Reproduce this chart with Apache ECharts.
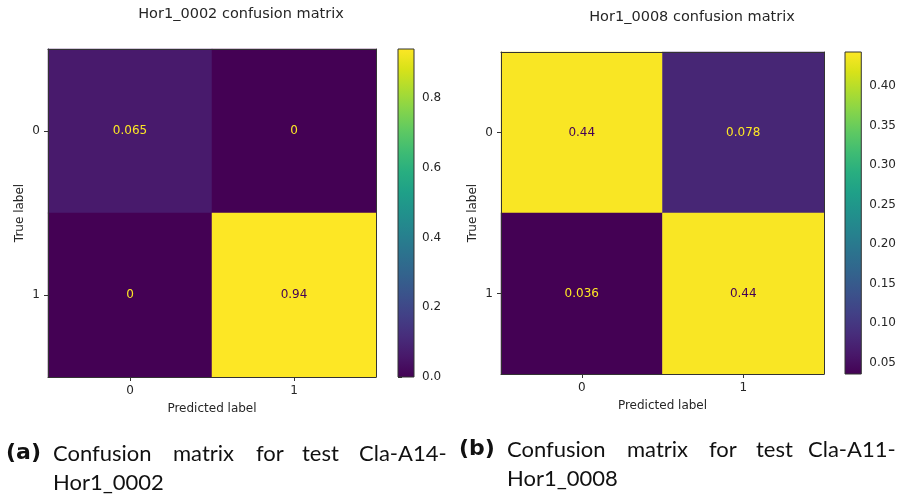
<!DOCTYPE html>
<html>
<head>
<meta charset="utf-8">
<script src="https://cdn.jsdelivr.net/npm/echarts@6/dist/echarts.min.js"></script>
<style>
  html, body { margin: 0; padding: 0; background: #ffffff; }
  #chart { width: 899px; height: 495px; }
</style>
</head>
<body>
<div id="chart"></div>
<script>
// Class labels shared by both matrices
const classLabels = ['0', '1'];

// Normalised confusion matrices: rows = true label, columns = predicted label
const matrixA = [
  [0.065, 0],
  [0, 0.94]
];
const matrixB = [
  [0.44, 0.078],
  [0.036, 0.44]
];

// Colour-scale ranges and colourbar ticks
const rangeA = [0, 0.94];
const rangeB = [0.036, 0.443];
const ticksA = [0.0, 0.2, 0.4, 0.6, 0.8];
const ticksB = [0.05, 0.10, 0.15, 0.20, 0.25, 0.30, 0.35, 0.40];

// Titles and captions
const titleA = 'Hor1_0002 confusion matrix';
const titleB = 'Hor1_0008 confusion matrix';
const captionA = ['(a)', 'Confusion', 'matrix', 'for', 'test', 'Cla-A14-', 'Hor1_0002'];
const captionB = ['(b)', 'Confusion', 'matrix', 'for', 'test', 'Cla-A11-', 'Hor1_0008'];

// viridis colormap samples
const viridis = ['#440154', '#48186a', '#472d7b', '#424086', '#3b528b', '#33638d',
  '#2c728e', '#26828e', '#21918c', '#1fa088', '#28ae80', '#3fbc73', '#5ec962',
  '#84d44b', '#addc30', '#d8e219', '#fde725'];

const FONT = 'DejaVu Sans';
const INK = '#262626';
const FRAME = '#333333';

function cellData(matrix, range) {
  const thresh = (range[0] + range[1]) / 2;
  const out = [];
  matrix.forEach((row, r) => {
    row.forEach((v, c) => {
      out.push({
        value: [c, r, v],
        label: { color: v < thresh ? viridis[viridis.length - 1] : viridis[0] }
      });
    });
  });
  return out;
}

function gradientStops() {
  return viridis.map((c, i) => ({ offset: i / (viridis.length - 1), color: c }));
}

function colorbarItem(params, api) {
  const lo = api.coord([0, api.value(0)]);
  const hi = api.coord([1, api.value(1)]);
  return {
    type: 'rect',
    shape: { x: lo[0], y: hi[1], width: hi[0] - lo[0], height: lo[1] - hi[1] },
    style: {
      fill: new echarts.graphic.LinearGradient(0, 1, 0, 0, gradientStops()),
      stroke: FRAME,
      lineWidth: 1
    }
  };
}

const grids = [
  { left: 48, top: 49, width: 328, height: 328 },   // matrix A
  { left: 398, top: 49, width: 16, height: 328 },   // colourbar A
  { left: 501, top: 52, width: 323, height: 322 },  // matrix B
  { left: 845, top: 52, width: 17, height: 322 }    // colourbar B
];

function matrixAxes(gi) {
  const tickStyle = { show: true, alignWithLabel: true, length: 4, lineStyle: { color: FRAME } };
  const lineStyle = { color: FRAME, width: 1 };
  const x = [
    {
      type: 'category', gridIndex: gi, data: classLabels, position: 'bottom', z: 10,
      axisLine: { show: true, lineStyle },
      axisTick: tickStyle,
      axisLabel: { color: INK, fontFamily: FONT, fontSize: 12, margin: 8 },
      name: 'Predicted label', nameLocation: 'middle', nameGap: 26,
      nameTextStyle: { color: INK, fontFamily: FONT, fontSize: 12 }
    },
    {
      type: 'category', gridIndex: gi, data: classLabels, position: 'top', z: 10,
      axisLine: { show: true, lineStyle }, axisTick: { show: false }, axisLabel: { show: false }
    }
  ];
  const y = [
    {
      type: 'category', gridIndex: gi, data: classLabels, inverse: true, position: 'left', z: 10,
      axisLine: { show: true, lineStyle },
      axisTick: tickStyle,
      axisLabel: { color: INK, fontFamily: FONT, fontSize: 12, margin: 8 },
      name: 'True label', nameLocation: 'middle', nameGap: 22,
      nameTextStyle: { color: INK, fontFamily: FONT, fontSize: 12 }
    },
    {
      type: 'category', gridIndex: gi, data: classLabels, inverse: true, position: 'right', z: 10,
      axisLine: { show: true, lineStyle }, axisTick: { show: false }, axisLabel: { show: false }
    }
  ];
  return { x, y };
}

function colorbarAxes(gi, range, ticks, digits) {
  return {
    x: [{ type: 'value', gridIndex: gi, min: 0, max: 1, show: false }],
    y: [{
      type: 'value', gridIndex: gi, min: range[0], max: range[1], position: 'right',
      splitLine: { show: false },
      axisLine: { show: false },
      axisTick: { show: true, length: 4, customValues: ticks, lineStyle: { color: FRAME } },
      axisLabel: {
        color: INK, fontFamily: FONT, fontSize: 12, margin: 8, customValues: ticks,
        formatter: v => Number(v).toFixed(digits)
      }
    }]
  };
}

const mA = matrixAxes(0);
const cA = colorbarAxes(1, rangeA, ticksA, 1);
const mB = matrixAxes(2);
const cB = colorbarAxes(3, rangeB, ticksB, 2);

const xAxes = [...mA.x, ...cA.x, ...mB.x, ...cB.x];
const yAxes = [...mA.y, ...cA.y, ...mB.y, ...cB.y];
// axis indices: matrix A x0,x1 y0,y1; colourbar A x2 y2; matrix B x3,x4 y3,y4; colourbar B x5 y5

const cellLabel = {
  show: true, fontFamily: FONT, fontSize: 12,
  formatter: p => String(p.value[2])
};

function captionGraphics(words, xs, ys) {
  return words.map((w, i) => ({
    type: 'text',
    left: xs[i],
    top: ys[i],
    style: {
      text: w,
      fill: '#111111',
      font: i === 0 ? 'bold 22px "DejaVu Sans"' : '22px Lato'
    }
  }));
}

const option = {
  backgroundColor: '#ffffff',
  animation: false,
  title: [
    { text: titleA, left: 236, top: 2, textAlign: 'center',
      textStyle: { fontFamily: FONT, fontSize: 14.5, fontWeight: 'normal', color: INK } },
    { text: titleB, left: 687, top: 5, textAlign: 'center',
      textStyle: { fontFamily: FONT, fontSize: 14.5, fontWeight: 'normal', color: INK } }
  ],
  grid: grids,
  xAxis: xAxes,
  yAxis: yAxes,
  visualMap: [
    { type: 'continuous', show: false, seriesIndex: 0, min: rangeA[0], max: rangeA[1],
      inRange: { color: viridis } },
    { type: 'continuous', show: false, seriesIndex: 2, min: rangeB[0], max: rangeB[1],
      inRange: { color: viridis } }
  ],
  series: [
    { type: 'heatmap', xAxisIndex: 0, yAxisIndex: 0, data: cellData(matrixA, rangeA),
      label: cellLabel, emphasis: { disabled: true } },
    { type: 'custom', xAxisIndex: 2, yAxisIndex: 2, data: [rangeA], renderItem: colorbarItem },
    { type: 'heatmap', xAxisIndex: 3, yAxisIndex: 3, data: cellData(matrixB, rangeB),
      label: cellLabel, emphasis: { disabled: true } },
    { type: 'custom', xAxisIndex: 5, yAxisIndex: 5, data: [rangeB], renderItem: colorbarItem }
  ],
  graphic: [
    ...captionGraphics(captionA, [6, 53, 173, 256, 302, 359, 53], [442, 443, 443, 443, 443, 443, 472]),
    ...captionGraphics(captionB, [459, 507, 627, 709, 756, 808, 507], [438, 439, 439, 439, 439, 439, 468])
  ]
};

const chart = echarts.init(document.getElementById('chart'), null, { renderer: 'canvas' });
chart.setOption(option);
</script>
</body>
</html>
